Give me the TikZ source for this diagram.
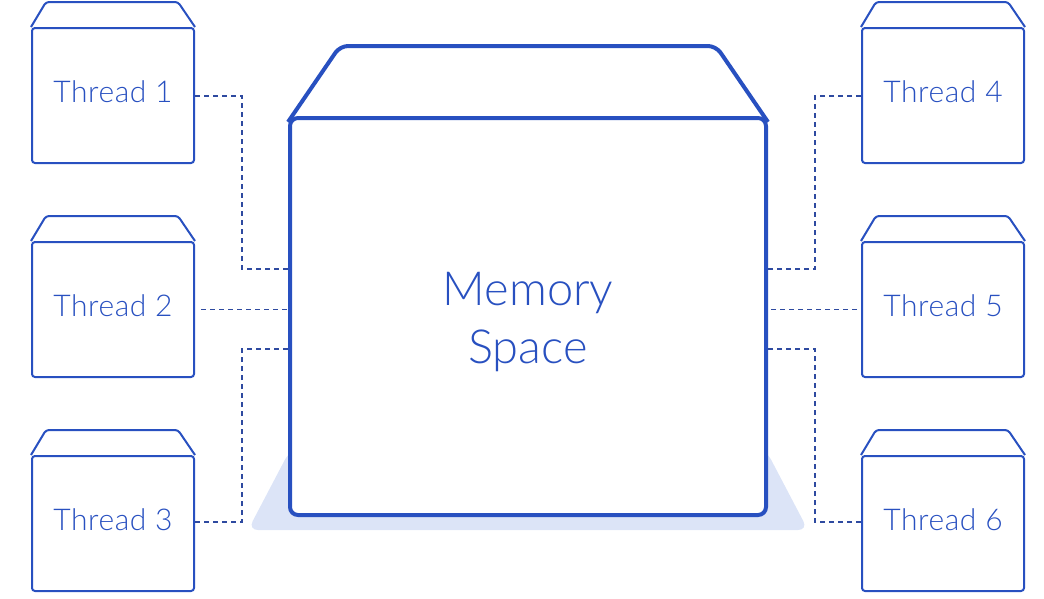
\documentclass[tikz,border=0pt]{standalone}
\usepackage{fontspec}
\setmainfont{Lato}[UprightFont=* Light]
\newfontfamily\labelfont{Lato}[UprightFont=* Light, LetterSpace=2]
\begin{document}
\definecolor{boxblue}{RGB}{40,80,192}
\definecolor{dashblue}{RGB}{46,74,160}
\definecolor{shadowblue}{RGB}{220,228,247}
\begin{tikzpicture}[x=1pt,y=-1pt,
  threadbox/.style={draw=boxblue, line width=2pt, rounded corners=3pt,
    minimum width=162pt, minimum height=135pt, inner sep=0pt},
  threadtext/.style={anchor=base, inner sep=0pt, text=boxblue,
    font=\labelfont\fontsize{30}{36}\selectfont},
  lid/.style={draw=boxblue, line width=2pt, rounded corners=3pt, line join=round},
  membox/.style={draw=boxblue, line width=4pt, rounded corners=8pt,
    minimum width=476pt, minimum height=397pt, inner sep=0pt, fill=white},
  memtext/.style={anchor=base, inner sep=0pt, text=boxblue, align=center,
    font=\fontsize{47}{58}\selectfont},
  memlid/.style={draw=boxblue, line width=4pt, rounded corners=8pt, line join=round},
  conn/.style={draw=dashblue, line width=1.3pt, dash pattern=on 5pt off 4pt}]
\useasboundingbox (0,0) rectangle (1044,598);

% soft base under the memory block
\fill[shadowblue, rounded corners=10pt] (290,450) -- (766,450) -- (808,530) -- (248,530) -- cycle;

% memory block
\node[membox] (mem) at (528,316.5) {};
\draw[memlid] ([yshift=-6pt]mem.north west) -- (340,46) -- (716,46) -- ([yshift=-6pt]mem.north east);
% base anchor sits on the baseline of the last line
\node[memtext] (memlabel) at (528,363) {Memory\\Space};

% thread blocks
\foreach \name/\x/\y/\label in {t1/113/95.5/Thread 1, t2/113/309.5/Thread 2, t3/113/523.5/Thread 3,
                                t4/943/95.5/Thread 4, t5/943/309.5/Thread 5, t6/943/523.5/Thread 6}{
  \node[threadbox] (\name) at (\x,\y) {};
  \draw[lid] (\name.north west) -- ++(15,-25) -- ([xshift=-17pt,yshift=25pt]\name.north east) -- (\name.north east);
  \node[threadtext] (\name label) at ([yshift=-6.5pt]\name.center) {\label};
}

% connectors, left side
\draw[conn] (t1.east |- 0,96) -- (242,96) -- (242,269) -- (mem.west |- 0,269);
\draw[conn] ([xshift=6pt]t2.east) -- (mem.west |- t2.east);
\draw[conn] (t3.east |- 0,522) -- (242,522) -- (242,349) -- (mem.west |- 0,349);

% connectors, right side
\draw[conn] (t4.west |- 0,96) -- (815,96) -- (815,269) -- (mem.east |- 0,269);
\draw[conn] ([xshift=-4pt]t5.west) -- (mem.east |- t5.west);
\draw[conn] (t6.west |- 0,522) -- (815,522) -- (815,349) -- (mem.east |- 0,349);
\end{tikzpicture}
\end{document}
